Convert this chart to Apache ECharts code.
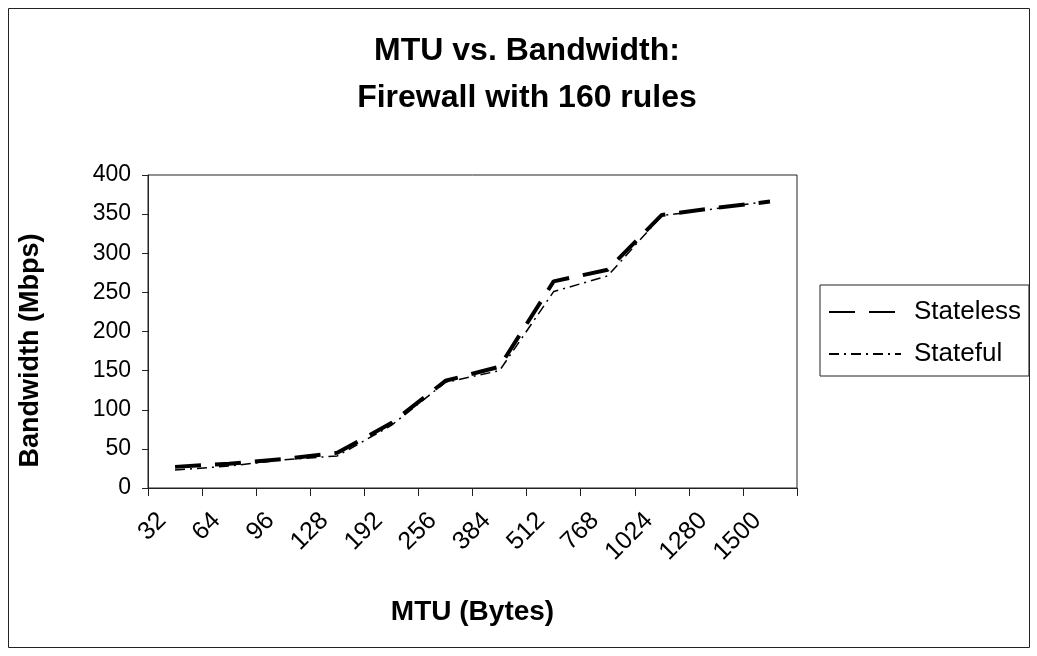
<!DOCTYPE html>
<html>
<head>
<meta charset="utf-8">
<script src="https://cdn.jsdelivr.net/npm/echarts@6/dist/echarts.min.js"></script>
<style>
  html, body { margin: 0; padding: 0; background: #fff; }
  #chart { width: 1037px; height: 656px; }
</style>
</head>
<body>
<div id="chart"></div>
<script>
var mtuLabels = ['32', '64', '96', '128', '192', '256', '384', '512', '768', '1024', '1280', '1500'];
var statelessMbps = [27, 31, 37, 45, 83, 137, 155, 264, 279, 349, 358, 366];
var statefulMbps = [23, 28, 36, 41, 80, 135, 150, 251, 271, 348, 357, 367];
var yTicks = [0, 50, 100, 150, 200, 250, 300, 350, 400];

(function () {
  var FONT = '"Liberation Sans", Arial, sans-serif';
  var chart = echarts.init(document.getElementById('chart'), null, { renderer: 'canvas' });

  var option = {
    backgroundColor: '#ffffff',
    animation: false,
    textStyle: { fontFamily: FONT, color: '#000' },
    graphic: [
      {
        type: 'rect',
        shape: { x: 8.5, y: 8.5, width: 1021, height: 639 },
        style: { fill: 'none', stroke: '#222', lineWidth: 1 },
        silent: true
      }
    ],
    title: {
      text: 'MTU vs. Bandwidth:\nFirewall with 160 rules',
      left: 522,
      top: 23,
      textAlign: 'center',
      textStyle: {
        fontFamily: FONT,
        fontSize: 32,
        fontWeight: 'bold',
        lineHeight: 47,
        color: '#000'
      }
    },
    legend: {
      orient: 'vertical',
      left: 820,
      top: 285,
      padding: [14, 8, 9, 8],
      itemGap: 16,
      itemWidth: 72,
      itemHeight: 14,
      borderColor: '#222',
      borderWidth: 1,
      backgroundColor: '#fff',
      itemStyle: { opacity: 0 },
      textStyle: { fontFamily: FONT, fontSize: 26, lineHeight: 26, color: '#000', padding: [0, 0, 0, 8] },
      data: ['Stateless', 'Stateful']
    },
    grid: {
      left: 148,
      right: 240,
      top: 175,
      bottom: 168,
      show: true,
      borderColor: '#222',
      borderWidth: 1,
      containLabel: false
    },
    xAxis: {
      type: 'category',
      data: mtuLabels,
      boundaryGap: true,
      name: 'MTU (Bytes)',
      nameLocation: 'middle',
      nameGap: 110,
      nameTextStyle: { fontFamily: FONT, fontSize: 28, fontWeight: 'bold', color: '#000' },
      axisLine: { lineStyle: { color: '#222', width: 1 } },
      axisTick: { show: true, length: 8, alignWithLabel: false, lineStyle: { color: '#222' } },
      axisLabel: {
        rotate: 45,
        margin: 16,
        interval: 0,
        padding: [0, 18, 0, 0],
        fontFamily: FONT,
        fontSize: 25,
        color: '#000'
      },
      splitLine: { show: false }
    },
    yAxis: {
      type: 'value',
      min: yTicks[0],
      max: yTicks[yTicks.length - 1],
      interval: 50,
      name: 'Bandwidth (Mbps)',
      nameLocation: 'middle',
      nameRotate: 90,
      nameGap: 104,
      nameTextStyle: {
        fontFamily: FONT,
        fontSize: 27,
        fontWeight: 'bold',
        color: '#000',
        padding: [0, 38, 0, 0]
      },
      axisLine: { show: true, lineStyle: { color: '#222', width: 1 } },
      axisTick: { show: true, length: 6, lineStyle: { color: '#222' } },
      axisLabel: { fontFamily: FONT, fontSize: 23, color: '#000', margin: 17 },
      splitLine: { show: false }
    },
    series: [
      {
        name: 'Stateless',
        type: 'line',
        data: statelessMbps,
        symbol: 'none',
        lineStyle: { color: '#000', width: 4, type: [26, 14] },
        itemStyle: { color: '#000' },
        z: 3
      },
      {
        name: 'Stateful',
        type: 'line',
        data: statefulMbps,
        symbol: 'none',
        lineStyle: { color: '#000', width: 1.5, type: [10, 5, 2, 5] },
        itemStyle: { color: '#000' },
        z: 4
      }
    ]
  };

  chart.setOption(option);
})();
</script>
</body>
</html>
